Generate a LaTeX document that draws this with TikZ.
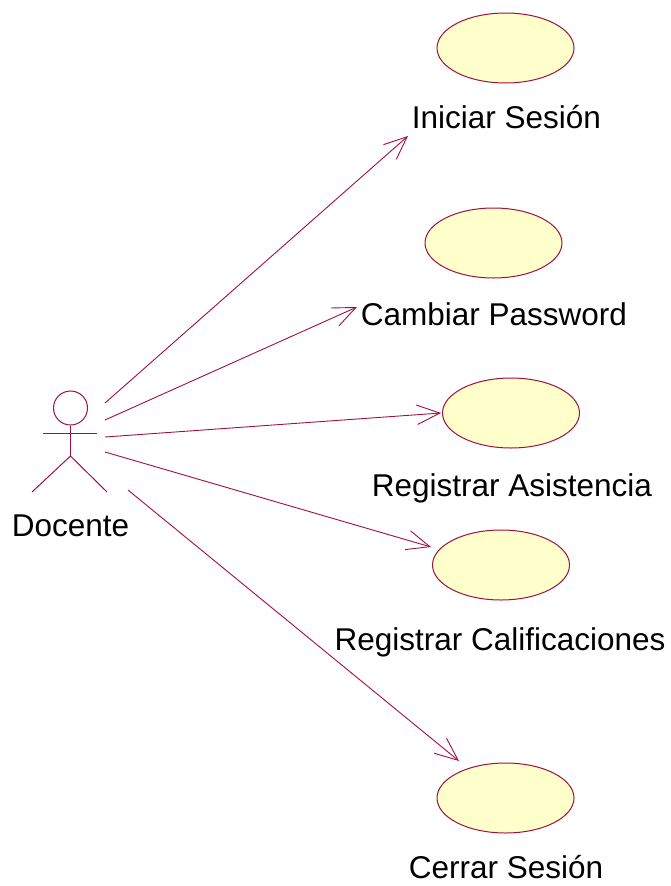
\documentclass[tikz,border=0pt]{standalone}
\usepackage{fontspec}
\setmainfont{Liberation Sans}
\usetikzlibrary{arrows.meta,shapes.geometric}
\definecolor{umlline}{HTML}{A0103F}
\definecolor{umlfill}{HTML}{FFFFCC}
\tikzset{
  usecase/.style={ellipse, draw=umlline, fill=umlfill, line width=1pt,
    minimum width=137pt, minimum height=70pt, inner sep=0pt},
  caselabel/.style={anchor=base, inner sep=0pt, font=\fontsize{31.5}{36}\selectfont},
  assoc/.style={draw=umlline, line width=0.9pt,
    -{Straight Barb[length=23pt, width=19.5pt, line width=0.9pt]}},
  actorline/.style={draw=umlline, line width=1pt}
}
\begin{document}
\begin{tikzpicture}[x=1pt, y=-1pt]
\useasboundingbox (0,0) rectangle (671,886);

% Actor: Docente
\node[circle, draw=umlline, line width=1pt, minimum size=34pt, inner sep=0pt] (head) at (70.5,408) {};
\coordinate (armL) at (43,433);
\coordinate (armR) at (97,433);
\coordinate (hip) at (70.5,456);
\coordinate (footL) at (32,492);
\coordinate (footR) at (107,492);
\draw[actorline] (armL) -- (armR);
\draw[actorline] (head.south) -- (hip);
\draw[actorline] (footL) -- (hip) -- (footR);
\node[caselabel] (docente) at (70.5,536) {Docente};

% Use cases
\node[usecase] (uc1) at (505.5,48) {};
\node[caselabel] (l1) at (506.5,128) {Iniciar Sesión};
\node[usecase] (uc2) at (493.5,243) {};
\node[caselabel] (l2) at (494,325) {Cambiar Password};
\node[usecase] (uc3) at (511,413) {};
\node[caselabel] (l3) at (512,496) {Registrar Asistencia};
\node[usecase] (uc4) at (501,565) {};
\node[caselabel] (l4) at (500,650) {Registrar Calificaciones};
\node[usecase] (uc5) at (505.5,798) {};
\node[caselabel] (l5) at (506,878) {Cerrar Sesión};

% Association ends
\coordinate (s1) at (105,403);
\coordinate (s2) at (105,420);
\coordinate (s3) at (105,437);
\coordinate (s4) at (105,452);
\coordinate (s5) at (128,490);
\coordinate (t1) at (408,136);
\coordinate (t2) at (357,307);
\coordinate (t3) at (441,413);
\coordinate (t4) at (431,547);
\coordinate (t5) at (459,761);

\draw[assoc] (s1) -- (t1);
\draw[assoc] (s2) -- (t2);
\draw[assoc] (s3) -- (t3);
\draw[assoc] (s4) -- (t4);
\draw[assoc] (s5) -- (t5);
\end{tikzpicture}
\end{document}
